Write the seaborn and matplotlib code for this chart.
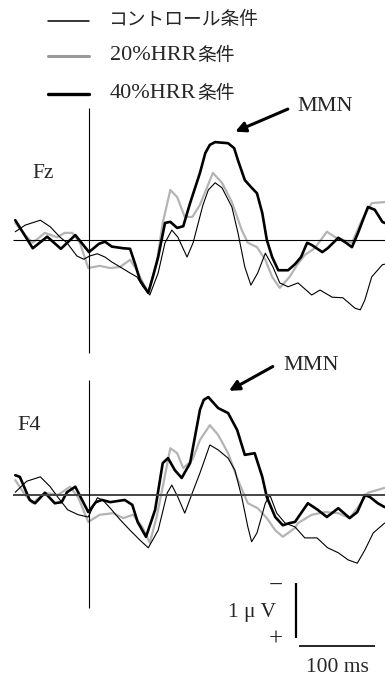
import numpy as np
import pandas as pd
import seaborn as sns
import matplotlib.pyplot as plt
from matplotlib.lines import Line2D

# ERP waveforms: time in ms, amplitude in uV (negative plotted up)
fz_ctrl_t = [-97, -84, -64, -51, -38, -29, -16, -7, 1, 11, 21, 30, 41, 54, 63, 71, 80, 91, 100,
             109, 117, 129, 137, 143, 150, 157, 166, 175, 188, 196, 205, 213, 222, 232, 242, 251,
             262, 275, 293, 304, 320, 334, 350, 357, 363, 372, 386, 389]
fz_ctrl_v = [-0.15, -0.27, -0.36, -0.24, -0.05, 0.05, 0.29, 0.35, 0.29, 0.25, 0.31, 0.40, 0.49,
             0.60, 0.67, 0.85, 1.00, 0.60, 0.05, -0.18, -0.05, 0.31, 0.05, -0.27, -0.64, -0.91,
             -1.04, -0.95, -0.60, -0.13, 0.49, 0.82, 0.60, 0.24, 0.49, 0.78, 0.85, 0.78, 1.00,
             0.91, 1.04, 1.05, 1.24, 1.27, 1.09, 0.67, 0.45, 0.44]

fz_20_t = [-97, -84, -74, -58, -42, -32, -22, -12, -1, 14, 28, 41, 54, 63, 71, 78, 89, 97, 107,
           116, 126, 136, 146, 163, 175, 188, 201, 209, 221, 232, 241, 251, 264, 274, 284, 297,
           313, 324, 334, 346, 359, 372, 389]
fz_20_v = [-0.31, -0.09, 0.05, -0.13, -0.05, -0.13, -0.13, 0.05, 0.51, 0.47, 0.51, 0.49, 0.36,
           0.55, 0.78, 0.96, 0.42, -0.31, -0.91, -0.78, -0.42, -0.42, -0.64, -1.22, -1.04,
           -0.69, -0.18, 0.05, 0.13, 0.36, 0.67, 0.87, 0.67, 0.45, 0.27, 0.15, -0.15, -0.05,
           0.00, 0.05, -0.36, -0.67, -0.69]

fz_40_t = [-97, -74, -55, -37, -18, 0, 13, 21, 30, 45, 54, 61, 67, 78, 84, 91, 100, 107, 116,
           124, 133, 146, 153, 159, 166, 183, 191, 196, 205, 214, 221, 228, 234, 241, 249, 262,
           271, 279, 287, 293, 307, 314, 328, 337, 346, 354, 367, 376, 386, 389]
fz_40_v = [-0.36, 0.15, -0.06, 0.16, -0.09, 0.22, 0.07, 0.03, 0.12, 0.15, 0.16, 0.45, 0.73,
           0.96, 0.67, 0.31, -0.31, -0.33, -0.22, -0.25, -0.67, -1.22, -1.58, -1.73, -1.78,
           -1.76, -1.67, -1.45, -1.09, -0.95, -0.85, -0.49, 0.00, 0.31, 0.55, 0.55, 0.44, 0.31,
           0.05, 0.09, 0.22, 0.15, -0.04, 0.04, 0.13, -0.13, -0.60, -0.55, -0.33, -0.31]

f4_ctrl_t = [-97, -82, -64, -51, -41, -28, -14, -1, 11, 18, 28, 41, 54, 67, 78, 91, 103, 109,
             117, 126, 136, 146, 159, 170, 183, 192, 201, 209, 214, 221, 232, 238, 247, 258, 271,
             284, 300, 314, 328, 341, 353, 363, 374, 389]
f4_ctrl_v = [-0.05, -0.25, -0.33, -0.15, 0.04, 0.27, 0.36, 0.40, 0.05, 0.09, 0.24, 0.45, 0.64,
             0.82, 0.96, 0.64, -0.04, -0.18, 0.04, 0.33, -0.04, -0.40, -0.91, -0.82, -0.67,
             -0.45, 0.04, 0.58, 0.85, 0.69, 0.15, 0.00, 0.33, 0.51, 0.58, 0.78, 0.78, 0.96, 1.05,
             1.18, 1.24, 1.00, 0.69, 0.51]

f4_20_t = [-97, -84, -74, -58, -41, -25, -14, -1, 14, 32, 45, 58, 70, 80, 89, 97, 107, 116, 124,
           136, 146, 159, 170, 183, 196, 209, 222, 234, 245, 255, 271, 275, 293, 311, 328, 343,
           354, 367, 389]
f4_20_v = [-0.27, 0.00, 0.15, -0.04, 0.00, -0.15, 0.05, 0.49, 0.36, 0.33, 0.42, 0.36, 0.58, 0.87,
           0.40, -0.15, -0.85, -0.76, -0.49, -0.64, -1.00, -1.27, -1.09, -0.76, -0.27, 0.15,
           0.24, 0.42, 0.64, 0.76, 0.60, 0.51, 0.36, 0.31, 0.33, 0.42, 0.22, -0.04, -0.13]

f4_40_t = [-97, -91, -78, -71, -58, -45, -36, -29, -18, -1, 9, 17, 28, 47, 57, 64, 75, 87, 97,
           104, 113, 122, 133, 146, 151, 157, 170, 183, 195, 205, 218, 228, 234, 245, 255, 264,
           271, 280, 288, 301, 313, 328, 343, 353, 363, 370, 380, 389]
f4_40_v = [-0.36, -0.33, 0.09, 0.15, -0.04, 0.15, 0.13, -0.05, -0.15, 0.31, 0.13, 0.09, 0.13,
           0.09, 0.18, 0.49, 0.76, 0.27, -0.58, -0.67, -0.45, -0.31, -0.58, -1.55, -1.73, -1.78,
           -1.58, -1.49, -1.18, -0.73, -0.76, -0.33, 0.04, 0.40, 0.55, 0.51, 0.49, 0.31, 0.15,
           0.27, 0.40, 0.24, 0.42, 0.31, 0.00, 0.04, 0.15, 0.22]

# legend labels split into latin part and japanese part
label_latin = ['', '20%HRR', '40%HRR']
label_jp = ['コントロール条件', '条件', '条件']
panel_names = ['Fz', 'F4']

sns.set_style('white')
plt.rcParams['font.family'] = ['Liberation Serif', 'Noto Sans CJK JP']

W, H = 385, 678
fig = plt.figure(figsize=(W / 100, H / 100), dpi=100)

PX_MS = 0.76    # pixels per ms
PX_UV = 55.0    # pixels per uV
X0 = 89         # pixel column of stimulus onset
T0, T1 = -X0 / PX_MS, (W - X0) / PX_MS


def make_axes(top, bottom, base):
    ax = fig.add_axes([0, 1 - bottom / H, 1, (bottom - top) / H])
    ax.set_xlim(T0, T1)
    ax.set_ylim((bottom - base) / PX_UV, (top - base) / PX_UV)  # negative up
    ax.axis('off')
    return ax


def px(x, y):
    return x / W, 1 - y / H


styles = [dict(color='black', lw=0.8), dict(color='#b4b4b4', lw=1.6), dict(color='black', lw=1.9)]
draw_order = [1, 0, 2]

ax_fz = make_axes(95, 360, 240)
ax_f4 = make_axes(360, 678, 495)

panels = [
    (ax_fz, [(fz_ctrl_t, fz_ctrl_v), (fz_20_t, fz_20_v), (fz_40_t, fz_40_v)]),
    (ax_f4, [(f4_ctrl_t, f4_ctrl_v), (f4_20_t, f4_20_v), (f4_40_t, f4_40_v)]),
]

for ax, curves in panels:
    for i in draw_order:
        t, v = curves[i]
        df = pd.DataFrame({'time': t, 'amp': v})
        sns.lineplot(data=df, x='time', y='amp', ax=ax, solid_joinstyle='round', **styles[i])
    ax.axis('off')

# baselines and onset lines
ax_fz.hlines(0, -100, T1, color='black', lw=0.8)
ax_f4.hlines(0, -100, T1, color='#444444', lw=1.4)
ax_fz.vlines(0, (108 - 240) / PX_UV, (353 - 240) / PX_UV, color='black', lw=0.8)
ax_f4.vlines(0, (380 - 495) / PX_UV, (608 - 495) / PX_UV, color='black', lw=0.8)

# electrode labels
fig.text(*px(32, 173), panel_names[0], fontsize=15.5, va='center', ha='left')
fig.text(*px(17, 425), panel_names[1], fontsize=16, va='center', ha='left')

# MMN arrows
ax_fz.annotate('', xy=(189, -1.95), xytext=(265, -2.40),
               arrowprops=dict(arrowstyle='-|>', lw=2.2, color='black', mutation_scale=15))
ax_fz.text(274, -2.42, 'MMN', fontsize=16, va='center', ha='left')
ax_f4.annotate('', xy=(181, -1.87), xytext=(245, -2.36),
               arrowprops=dict(arrowstyle='-|>', lw=2.2, color='black', mutation_scale=15))
ax_f4.text(256, -2.35, 'MMN', fontsize=16, va='center', ha='left')

# calibration bar: 1 uV x 100 ms
bar_t = 272
ax_f4.vlines(bar_t, 1.6, 2.6, color='black', lw=1.6)
ax_f4.hlines(2.75, 276, 376, color='black', lw=1.2)
fig.text(*px(276, 586), '−', fontsize=18, ha='center', va='center')
fig.text(*px(276, 640), '+', fontsize=18, ha='center', va='center')
fig.text(*px(276, 613), '1 μ V', fontsize=15.5, ha='right', va='center')
fig.text(*px(337, 668), '100 ms', fontsize=15.5, ha='center', va='center')

# legend
leg_y = [21, 56, 94]
renderer = fig.canvas.get_renderer()
for i in range(3):
    lc = '#999999' if i == 1 else 'black'
    lw = [1.1, 2.2, 2.4][i]
    fig.add_artist(Line2D([48 / W, 89 / W], [1 - leg_y[i] / H] * 2, color=lc, lw=lw))
    x_next = 108
    if label_latin[i]:
        t_lat = fig.text(*px(110, leg_y[i]), label_latin[i], fontsize=16,
                         va='center', ha='left', family='Liberation Serif')
        x_next = t_lat.get_window_extent(renderer).x1 + 1
    fig.text(x_next / W, 1 - (leg_y[i] - 1) / H, label_jp[i], fontsize=13.5, va='center',
             ha='left', family='Noto Sans CJK JP')

fig.savefig('out.png', dpi=100)
